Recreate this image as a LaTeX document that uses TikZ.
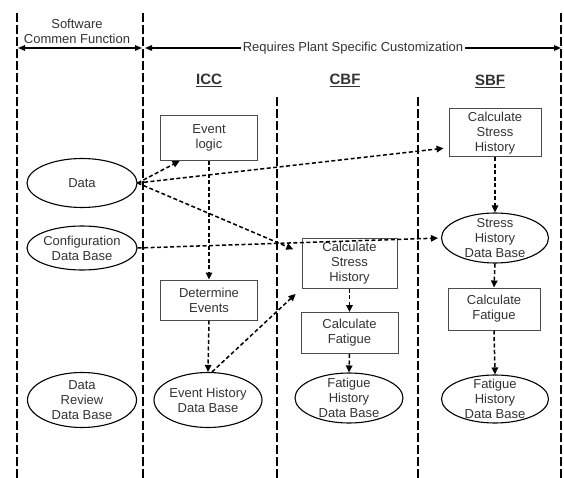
\documentclass[tikz,border=0pt]{standalone}
\usepackage{fontspec}
\setmainfont{Liberation Sans}
\usetikzlibrary{shapes.geometric,arrows.meta,calc}
\begin{document}
\begin{tikzpicture}[x=1pt,y=-1pt,
  txt/.style={align=center,font=\fontsize{13}{15}\selectfont,text=black!80},
  box/.style={draw=black!70,line width=1pt,inner sep=1pt,txt},
  ell/.style={draw,ellipse,line width=1.1pt,inner sep=0pt},
  hdr/.style={font=\fontsize{15}{17}\selectfont\bfseries,text=black!80},
  lanethin/.style={line width=1.3pt,dash pattern=on 9pt off 3pt},
  lanethick/.style={line width=2pt,dash pattern=on 9pt off 3pt},
  conn/.style={line width=1.5pt,dash pattern=on 4pt off 2.5pt,-{Triangle[length=7pt,width=6.5pt]}},
  dim/.style={line width=1.4pt,{Triangle[length=7pt,width=5.5pt]}-{Triangle[length=7pt,width=5.5pt]}}]
\useasboundingbox (0,0) rectangle (564,478);
% lanes
\coordinate (l1t) at (17,13);  \coordinate (l1b) at (17,478);
\coordinate (l2t) at (143,13); \coordinate (l2b) at (143,478);
\coordinate (l3t) at (277,97); \coordinate (l3b) at (277,478);
\coordinate (l4t) at (418,97); \coordinate (l4b) at (418,478);
\coordinate (l5t) at (561,13); \coordinate (l5b) at (561,478);
\draw[lanethin] (l1t) -- (l1b);
\draw[lanethin] (l2t) -- (l2b);
\draw[lanethick] (l3t) -- (l3b);
\draw[lanethick] (l4t) -- (l4b);
\draw[lanethick] (l5t) -- (l5b);
% top dimension arrows
\coordinate (a1) at (18,48); \coordinate (a2) at (142,48);
\coordinate (a3) at (145,48); \coordinate (a4) at (561,48);
\draw[dim] (a1) -- (a2);
\draw[dim] (a3) -- node[fill=white,inner sep=2pt,txt] (req) {Requires Plant Specific Customization} (a4);
\node[txt] (swc) at (77,31) {Software\\Commen Function};
% headers
\node[hdr] (icc) at (209,80) {\underline{ICC}};
\node[hdr] (cbf) at (345,80) {\underline{CBF}};
\node[hdr] (sbf) at (490,81) {\underline{SBF}};
% boxes
\node[box,minimum width=97pt,minimum height=45pt] (evlogic) at (209,138) {Event\\logic};
\node[box,minimum width=97pt,minimum height=40pt] (detev) at (209,300) {Determine\\Events};
\node[box,minimum width=92pt,minimum height=48pt] (sbfstress) at (495,133) {Calculate\\Stress\\History};
\node[box,minimum width=95pt,minimum height=50pt] (cbfstress) at (349.5,263) {Calculate\\Stress\\History};
\node[box,minimum width=97pt,minimum height=41pt] (cbffat) at (349.5,333) {Calculate\\Fatigue};
\node[box,minimum width=92pt,minimum height=42pt] (sbffat) at (494,309) {Calculate\\Fatigue};
% ellipses
\node[ell,minimum width=110pt,minimum height=49pt,label={[txt]center:Data}] (data) at (82,183) {};
\node[ell,minimum width=110pt,minimum height=44pt,label={[txt]center:{Configuration\\Data Base}}] (config) at (82,248) {};
\node[ell,minimum width=109pt,minimum height=55pt,label={[txt]center:{Data\\Review\\Data Base}}] (review) at (82,400) {};
\node[ell,minimum width=108pt,minimum height=55pt,label={[txt]center:{Event History\\Data Base}}] (evhist) at (208,400) {};
\node[ell,minimum width=108pt,minimum height=50pt,label={[txt]center:{Fatigue\\History\\Data Base}}] (cbfhist) at (349,398) {};
\node[ell,minimum width=107pt,minimum height=50pt,label={[txt]center:{Stress\\History\\Data Base}}] (sbfsh) at (495,238) {};
\node[ell,minimum width=107pt,minimum height=48pt,label={[txt]center:{Fatigue\\History\\Data Base}}] (sbfhist) at (495,399) {};
% connectors
\draw[conn] (data.east) -- ($(evlogic.south west)!0.2!(evlogic.south east)$);
\draw[conn,shorten >=5pt] (data.east) -- ($(sbfstress.west)!0.6!(sbfstress.south west)$);
\draw[conn,shorten >=9pt] (data.east) -- ($(cbfstress.north west)!0.3!(cbfstress.south west)$);
\draw[conn,shorten >=3pt] (config.east) -- (sbfsh.west);
\draw[conn] (evlogic.south) -- (detev.north);
\draw[conn] (detev.south) -- (evhist.north);
\draw[conn,shorten >=8pt] ($(evhist.north)+(4,0)$) -- (cbfstress.south west);
\draw[conn] (sbfstress.south) -- (sbfsh.north);
\draw[conn] (cbfstress.south) -- (cbffat.north);
\draw[conn] (cbffat.south) -- (cbfhist.north);
\draw[conn] (sbfsh.south) -- (sbffat.north);
\draw[conn] (sbffat.south) -- (sbfhist.north);
\end{tikzpicture}
\end{document}
